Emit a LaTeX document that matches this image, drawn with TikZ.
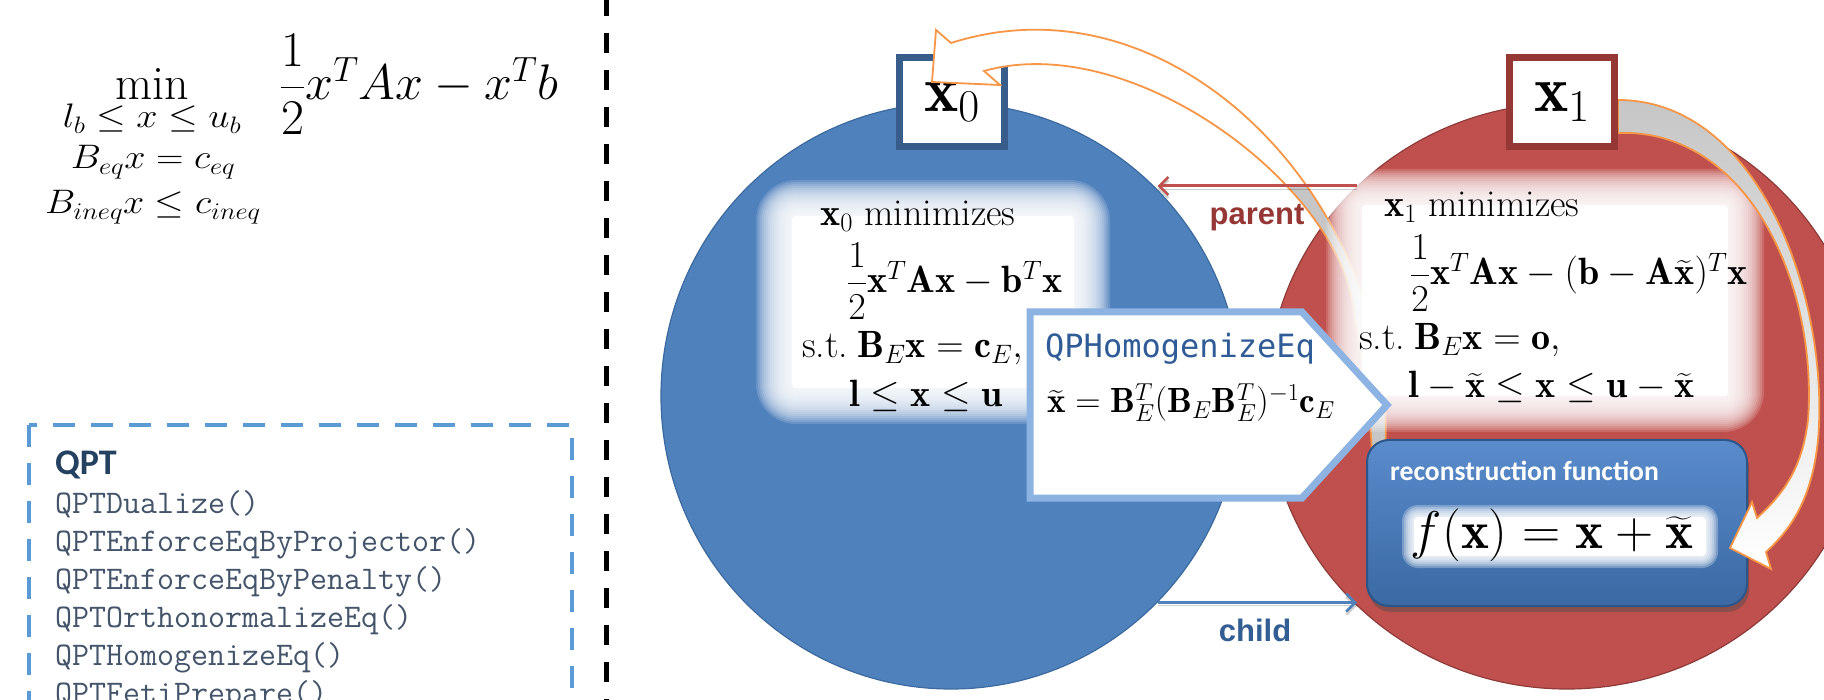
\RequirePackage{fix-cm}
\documentclass[tikz,border=0pt]{standalone}
\usepackage{amsmath}
\usepackage{graphicx}
\usepackage{fontspec}
\usetikzlibrary{shapes.geometric,arrows.meta,shadows,calc}
\newfontfamily\calibri{Carlito}
\newfontfamily\arialf{Liberation Sans}
\newfontfamily\consmono{DejaVu Sans Mono}
\newcommand\myfs[1]{\fontsize{#1}{#1}\selectfont}
\definecolor{ellblue}{HTML}{4F81BD}
\definecolor{ellblueD}{HTML}{3C6A9E}
\definecolor{ellred}{HTML}{C0504D}
\definecolor{ellredD}{HTML}{8E3B39}
\definecolor{boxblue}{HTML}{385D8A}
\definecolor{boxred}{HTML}{953735}
\definecolor{orng}{HTML}{F79646}
\definecolor{pentblue}{HTML}{8DB3E2}
\definecolor{qptblue}{HTML}{5B9BD5}
\definecolor{qptnavy}{HTML}{24415F}
\definecolor{qptgray}{HTML}{44546A}
\definecolor{homtxt}{HTML}{2F5C97}
\definecolor{parentc}{HTML}{953735}
\definecolor{childc}{HTML}{325E94}
\definecolor{reconT}{HTML}{5A8BCB}
\definecolor{reconB}{HTML}{3A69A3}
\definecolor{reconD}{HTML}{2D5587}
\definecolor{ltgray}{HTML}{C6C6C6}
\newcommand\blurwhite[6]{%
  \foreach \e in {0,2,...,#5}{\fill[white,opacity=#6,rounded corners=\e+4] (#1-\e,#2-\e) rectangle (#3+\e,#4+\e);}%
  \fill[white,rounded corners=4] (#1,#2) rectangle (#3,#4);}
\newcommand\arrowApath{(1385,455) .. controls (1400,210) and (1180,-30) .. (951,43)
  -- (936,30) -- (932,82) -- (1000,85) -- (984,71)
  .. controls (1130,30) and (1330,180) .. (1352,300)
  .. controls (1362,360) and (1370,400) .. (1372,455) -- cycle}
\tikzset{
  sepline/.style={line width=5, dash pattern=on 20pt off 17pt, black},
  qptframe/.style={line width=4, qptblue, dash pattern=on 22pt off 16pt},
  fnline/.style={anchor=base west, inner sep=0, font=\ttfamily\myfs{33}, text=qptgray},
  ell/.style={ellipse, inner sep=0, line width=1.2},
  xbox/.style={line width=7, fill=white, minimum width=105, minimum height=89, inner sep=0, font=\myfs{65}},
  row/.style={anchor=base west, inner sep=0, font=\myfs{38}},
  orangearrow/.style={draw=orng, line width=1.8, line join=miter},
  linkarrow/.style={line width=3, -{Straight Barb[length=9pt,width=18pt,line width=2.5pt]},
     preaction={draw=black, opacity=0.18, transform canvas={yshift=-3pt}}},
  linklabel/.style={font=\arialf\bfseries\myfs{31}, inner sep=0},
  pent/.style={draw=pentblue, line width=7, fill=white, line join=miter},
  recon/.style={rounded corners=22, minimum width=380, minimum height=166, inner sep=0,
     draw=reconD, line width=2, top color=reconT, bottom color=reconB,
     drop shadow={shadow xshift=2pt, shadow yshift=-6pt, opacity=0.45, fill=black!70}},
}
\begin{document}
\begin{tikzpicture}[x=1pt,y=-1pt]
\useasboundingbox (0,0) rectangle (1824,700);
\fill[white] (0,0) rectangle (1824,700);

% ---------- left panel ----------
\node[anchor=base, inner sep=0, font=\myfs{48}] (minop) at (152,100) {$\min$};
\node[anchor=base, inner sep=0, font=\myfs{34}] (con1) at (152,128) {\scalebox{1.12}[1]{$l_b\le x\le u_b$}};
\node[anchor=base, inner sep=0, font=\myfs{34}] (con2) at (153,169) {\scalebox{1.12}[1]{$B_{eq}x=c_{eq}$}};
\node[anchor=base, inner sep=0, font=\myfs{34}] (con3) at (153,214) {\scalebox{1.12}[1]{$B_{ineq}x\le c_{ineq}$}};
\node[anchor=base west, inner sep=0, font=\myfs{50}] (objf) at (280,100) {$\dfrac{1}{2}x^TAx-x^Tb$};

\coordinate (septop) at (606,-4);
\coordinate (sepbot) at (606,706);
\draw[sepline] (septop) -- (sepbot);

\draw[qptframe] (29,425) rectangle (572,760);
\node[anchor=base west, inner sep=0, font=\calibri\bfseries\myfs{36}, text=qptnavy] (qpt) at (55,475) {QPT};
\foreach \t [count=\i] in {QPTDualize(),QPTEnforceEqByProjector(),QPTEnforceEqByPenalty(),QPTOrthonormalizeEq(),QPTHomogenizeEq(),QPTFetiPrepare()}
  {\node[fnline] (fn\i) at (55,475+38*\i) {\t};}

% ---------- right panel ----------
\node[ell, minimum width=580, minimum height=586, fill=ellblue, draw=ellblueD] (blueell) at (951,396) {};
\node[ell, minimum width=600, minimum height=586, fill=ellred, draw=ellredD] (redell) at (1567,396) {};

\node[xbox, draw=boxblue] (xbox0) at (952,102) {$\mathbf{x}_0$};

% curved arrow towards x0
\fill[white] \arrowApath;
\begin{scope}
  \clip \arrowApath;
  \fill[ltgray] (1290,185) rectangle (1400,470);
\end{scope}
\draw[orangearrow] \arrowApath;

% white blurred panels
\blurwhite{792}{216}{1074}{388}{36}{0.15}
\blurwhite{1362}{205}{1728}{396}{36}{0.15}

\node[row] (b1) at (820,226) {$\mathbf{x}_0$ minimizes};
\node[row] (b2) at (847,293) {$\dfrac{1}{2}\mathbf{x}^T\mathbf{A}\mathbf{x}-\mathbf{b}^T\mathbf{x}$};
\node[row] (b3) at (802,358) {s.t.\kern9pt$\mathbf{B}_E\mathbf{x}=\mathbf{c}_E,$};
\node[row] (b4) at (849,407) {$\mathbf{l}\le\mathbf{x}\le\mathbf{u}$};

\node[row] (r1) at (1384,217) {$\mathbf{x}_1$ minimizes};
\node[row] (r2) at (1410,285) {$\dfrac{1}{2}\mathbf{x}^T\mathbf{A}\mathbf{x}-(\mathbf{b}-\mathbf{A}\widetilde{\mathbf{x}})^T\mathbf{x}$};
\node[row] (r3) at (1359,350) {s.t.\kern9pt$\mathbf{B}_E\mathbf{x}=\mathbf{o},$};
\node[row] (r4) at (1408,398) {$\mathbf{l}-\widetilde{\mathbf{x}}\le\mathbf{x}\le\mathbf{u}-\widetilde{\mathbf{x}}$};

% parent / child
\draw[linkarrow, draw=ellred] (redell.135) -- (blueell.45 |- redell.135);
\node[linklabel, text=parentc] (plabel) at (1257,218) {parent};
\draw[linkarrow, draw=ellblue] (blueell.-45) -- (redell.-135 |- blueell.-45);
\node[linklabel, text=childc] (clabel) at (1255,630) {child};

% QPHomogenizeEq callout
\path[pent] (1030,312) -- (1302,312) -- (1387,405) -- (1302,498) -- (1030,498) -- cycle;
\node[anchor=base west, inner sep=0, font=\consmono\myfs{32}, text=homtxt] (hname) at (1045,358) {QPHomogenizeEq};
\node[anchor=base west, inner sep=0, font=\myfs{35}] (hform) at (1047,413) {$\widetilde{\mathbf{x}}=\mathbf{B}_E^T(\mathbf{B}_E\mathbf{B}_E^T)^{-1}\mathbf{c}_E$};

% reconstruction box
\node[recon] (recon) at (1557,523) {};
\blurwhite{1414}{517}{1706}{556}{12}{0.28}
\node[anchor=base west, inner sep=0, font=\calibri\bfseries\myfs{27.6}, text=white] (rtitle) at (1390,480) {reconstruction function};
\node[anchor=base, inner sep=0, font=\myfs{53}] (rform) at (1552,548) {$f(\mathbf{x})=\mathbf{x}+\widetilde{\mathbf{x}}$};

% curved arrow towards f(x)
\path[orangearrow, top color=ltgray, middle color=ltgray!55, bottom color=white]
  (1618,100) .. controls (1760,100) and (1830,300) .. (1818,440)
  .. controls (1812,500) and (1790,530) .. (1766,552)
  -- (1771,569) -- (1730,548) -- (1752,502) -- (1757,518)
  .. controls (1782,495) and (1802,470) .. (1808,420)
  .. controls (1818,285) and (1748,128) .. (1618,133) -- cycle;

\node[xbox, draw=boxred] (xbox1) at (1562,102) {$\mathbf{x}_1$};
\end{tikzpicture}
\end{document}
